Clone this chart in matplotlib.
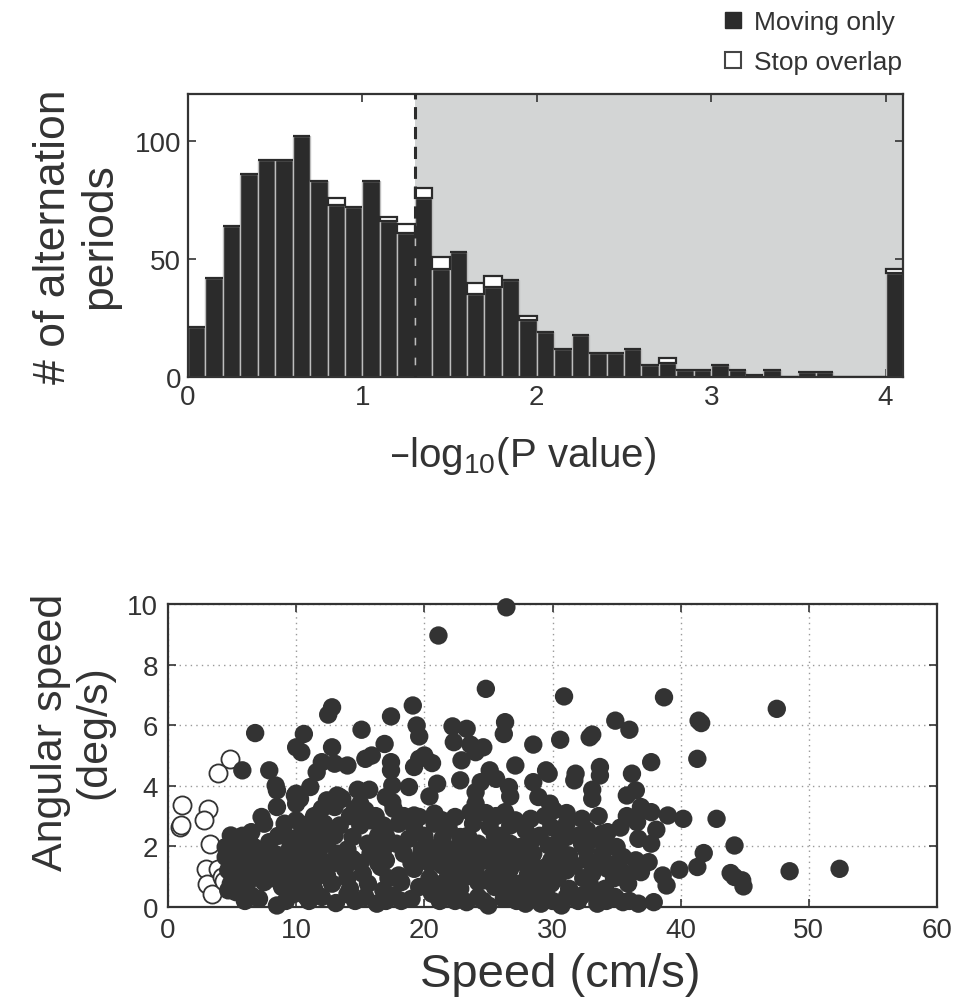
import numpy as np
import matplotlib
matplotlib.use("Agg")
import matplotlib.pyplot as plt
from matplotlib.lines import Line2D

plt.rcParams['font.family'] = ['Liberation Sans', 'DejaVu Sans']
plt.rcParams['mathtext.default'] = 'regular'

# ---------------- Histogram data ----------------
bin_width = 0.1
moving_only = [21, 42, 64, 86, 92, 92, 102, 83, 73, 72,
               83, 66, 61, 76, 46, 53, 35, 38, 41, 24,
               19, 12, 18, 10, 10, 12, 5, 6, 3, 3,
               5, 3, 1, 3, 0, 2, 2, 0, 0, 0,
               44]
stop_overlap = [0, 0, 0, 0, 0, 0, 0, 0, 3, 0,
                0, 2, 4, 4, 5, 0, 5, 5, 0, 2,
                0, 0, 0, 0, 0, 0, 0, 2, 0, 0,
                0, 0, 0, 0, 0, 0, 0, 0, 0, 0,
                2]
threshold = 1.3
hist_xticks = [0, 1, 2, 3, 4]
hist_yticks = [0, 50, 100]

# ---------------- Scatter data ----------------
speed_stop = [4.8, 3.9, 1.1, 3.1, 2.8, 0.9, 1.05, 3.3, 2.95, 3.9, 3.05, 3.45, 4.2, 4.4]
angular_stop = [4.9, 4.42, 3.37, 3.24, 2.87, 2.64, 2.70, 2.07, 1.27, 1.25, 0.77, 0.43, 1.0, 0.85]

moving_pts = [
    (26.4, 9.89), (21.1, 8.96), (24.8, 7.20), (30.9, 6.95), (38.7, 6.92), (47.5, 6.54),
    (19.1, 6.65), (12.8, 6.59), (12.5, 6.35), (17.4, 6.29), (34.9, 6.15), (41.4, 6.15),
    (41.6, 6.07), (26.3, 6.10), (19.4, 5.99), (22.2, 5.96), (23.3, 5.88), (15.1, 5.85),
    (36.0, 5.85), (6.8, 5.74), (10.6, 5.71), (19.6, 5.63), (26.2, 5.71), (33.1, 5.69),
    (32.9, 5.60), (30.6, 5.52), (22.3, 5.44), (16.9, 5.38), (28.5, 5.36), (23.6, 5.36),
    (10.0, 5.27), (12.8, 5.27), (24.6, 5.27), (10.4, 5.11), (24.0, 5.11), (15.9, 5.00),
    (15.4, 4.89), (41.3, 4.89), (20.0, 5.00), (19.6, 4.89), (22.9, 4.84), (37.7, 4.78),
    (12.0, 4.78), (17.4, 4.78), (20.6, 4.75), (13.0, 4.73), (14.0, 4.67), (27.1, 4.67),
    (33.7, 4.62), (19.2, 4.62), (5.8, 4.51), (7.9, 4.51), (11.6, 4.45), (17.4, 4.51),
    (25.1, 4.51), (29.5, 4.51), (29.7, 4.40), (31.8, 4.40), (36.2, 4.40), (33.7, 4.34),
    (25.6, 4.23), (22.8, 4.18), (28.5, 4.12), (24.4, 4.12), (21.0, 4.07), (8.4, 4.01),
    (17.5, 4.01), (26.6, 3.96), (31.7, 4.18), (11.1, 3.96), (18.8, 3.96), (8.5, 3.85),
    (14.8, 3.87), (15.7, 3.87), (33.1, 3.87), (36.5, 3.85), (24.0, 3.79), (35.8, 3.68),
    (9.9, 3.68), (20.4, 3.65), (28.9, 3.63), (33.1, 3.57), (13.4, 3.63), (26.7, 3.65),
    (29.8, 3.41), (17.5, 3.46), (12.4, 3.52), (10.0, 3.41), (24.0, 3.41), (8.5, 3.30),
    (36.9, 3.30), (30.1, 3.19), (37.7, 3.13), (15.4, 3.19), (39.0, 3.02), (40.2, 2.91),
    (42.8, 2.91), (7.3, 2.97), (22.4, 2.97), (28.3, 2.91), (32.3, 2.91), (36.6, 2.80),
    (19.6, 2.97), (35.3, 2.62), (38.1, 2.55), (44.2, 2.03), (41.8, 1.78), (39.9, 1.23),
    (41.3, 1.32), (48.5, 1.18), (52.4, 1.26), (43.9, 1.12), (44.8, 0.88), (44.9, 0.68),
    (44.2, 0.99), (38.9, 0.71), (38.6, 1.04), (36.7, 2.25), (37.7, 2.09), (35.0, 1.98),
    (33.9, 2.42), (36.5, 1.54), (37.5, 1.48), (36.9, 1.15),
    # bottom row
    (8.5, 0.05), (13.1, 0.13), (16.3, 0.11), (23.3, 0.16), (25.0, 0.05), (26.2, 0.27),
    (27.9, 0.11), (29.1, 0.11), (30.7, 0.05), (33.5, 0.11), (35.5, 0.16), (36.7, 0.11),
    (37.9, 0.16), (34.9, 0.33), (32.3, 0.38), (29.5, 0.38), (20.6, 0.44), (15.4, 0.33),
    (12.0, 0.33), (7.1, 0.27), (9.9, 0.44),
    # band 3.0-3.5
    (12.0, 3.24), (13.0, 3.30), (14.6, 3.24), (17.6, 3.24), (21.4, 2.86), (23.6, 3.13),
    (24.8, 3.10), (26.3, 3.13), (27.1, 2.86), (31.1, 3.10),
    # band 2.5-3.0
    (4.9, 2.36), (6.5, 2.47), (7.5, 2.75), (9.1, 2.75), (10.0, 2.86), (11.0, 2.75),
    (12.2, 2.75), (13.4, 2.69), (15.0, 2.69), (15.8, 2.86), (16.8, 2.69), (18.0, 2.75),
    (19.2, 2.64), (20.8, 2.75), (21.9, 2.58), (23.8, 2.75), (25.1, 2.64), (26.7, 2.69),
    (27.9, 2.53), (29.9, 2.64), (31.1, 2.75), (32.7, 2.53), (34.3, 2.47),
    # band 2.0-2.5
    (5.3, 2.09), (6.3, 2.25), (7.9, 2.14), (9.3, 2.31), (10.4, 2.42), (11.6, 2.25),
    (13.0, 2.36), (14.4, 2.31), (15.6, 2.09), (16.4, 2.36), (17.8, 2.09), (18.8, 2.25),
    (20.2, 2.03), (21.4, 2.25), (22.8, 2.31), (24.2, 2.09), (25.5, 2.36), (26.7, 2.09),
    (28.5, 2.25), (29.7, 2.03), (31.1, 2.31), (32.3, 2.09), (33.3, 2.25), (34.3, 1.98),
    # band 1.5-2.0
    (4.5, 1.65), (5.7, 1.76), (6.9, 1.59), (8.3, 1.76), (9.7, 1.65), (10.8, 1.81),
    (12.0, 1.54), (13.2, 1.76), (14.4, 1.59), (15.8, 1.76), (17.0, 1.54), (18.4, 1.76),
    (19.6, 1.59), (21.0, 1.76), (22.2, 1.54), (23.6, 1.70), (24.8, 1.54), (25.9, 1.81),
    (27.3, 1.59), (28.5, 1.76), (29.9, 1.54), (31.3, 1.70), (32.7, 1.54), (33.9, 1.76),
    (35.5, 1.65),
    # band 1.0-1.5
    (4.7, 1.21), (5.9, 1.32), (7.1, 1.10), (8.5, 1.26), (9.9, 1.10), (11.2, 1.32),
    (12.4, 1.04), (13.8, 1.26), (15.2, 1.10), (16.6, 1.32), (18.0, 1.04), (19.2, 1.26),
    (21.4, 1.37), (22.6, 1.10), (24.0, 1.26), (25.3, 1.04), (26.7, 1.26), (28.1, 1.10),
    (29.5, 1.32), (31.1, 1.21), (31.7, 1.37), (33.1, 1.10), (34.3, 1.26), (35.7, 1.10),
    # band 0.5-1.0
    (4.9, 0.77), (6.1, 0.60), (7.5, 0.82), (8.9, 0.66), (10.2, 0.82), (11.4, 0.60),
    (12.8, 0.77), (14.2, 0.60), (15.6, 0.77), (16.8, 0.55), (18.2, 0.82), (19.6, 0.66),
    (21.4, 0.77), (22.8, 0.60), (24.2, 0.82), (25.5, 0.66), (27.1, 0.77), (28.5, 0.60),
    (29.9, 0.77), (31.3, 0.60), (32.9, 0.77), (34.1, 0.60), (35.9, 0.77),
    # band 0.0-0.5
    (5.3, 0.49), (6.5, 0.38), (10.8, 0.33), (14.0, 0.42), (17.6, 0.38), (19.0, 0.27),
    (21.9, 0.44), (24.2, 0.33), (27.1, 0.38), (28.7, 0.27), (31.1, 0.33), (33.3, 0.49),
    # dense fill
    (5.1, 1.92), (5.7, 1.43), (5.3, 0.99), (6.3, 0.88), (6.7, 1.98), (7.3, 1.43),
    (7.9, 0.99), (9.1, 1.48), (9.3, 0.99), (9.5, 1.92), (4.5, 1.98), (4.7, 0.55),
    (10.1, 2.09), (10.8, 2.09), (11.2, 2.53), (12.4, 2.09), (12.8, 1.43), (11.6, 0.99),
    (10.4, 1.43), (23.2, 1.87), (24.4, 1.87), (25.5, 1.43), (27.9, 0.88), (28.9, 0.88),
    (28.5, 1.37), (26.7, 1.54), (25.1, 1.98), (27.5, 1.98), (23.2, 0.99), (24.8, 0.88),
    (26.3, 0.55), (27.7, 0.49), (29.5, 1.10), (10.0, 3.74), (10.3, 3.57), (13.2, 3.68),
    (13.6, 3.57), (15.0, 3.41), (17.0, 3.63), (19.2, 3.02), (20.8, 3.08),
    # extra core rows
    (6.0, 0.2), (9.2, 0.2), (11.0, 0.2), (14.6, 0.2), (17.0, 0.2), (18.2, 0.2),
    (21.2, 0.2), (22.4, 0.2), (24.6, 0.2), (27.2, 0.2), (30.0, 0.2), (32.0, 0.2),
    (34.2, 0.2), (36.0, 0.2),
    (6.2, 1.45), (8.0, 1.45), (11.0, 1.45), (13.6, 1.45), (15.0, 1.45), (16.4, 1.45),
    (19.0, 1.45), (20.4, 1.45), (21.8, 1.45), (23.0, 1.45), (27.8, 1.45), (30.4, 1.45),
    (33.4, 1.45), (35.0, 1.45),
    (5.8, 2.35), (8.6, 2.35), (12.0, 2.35), (17.0, 2.35), (20.0, 2.35), (23.4, 2.35),
    (26.0, 2.35), (29.0, 2.35), (30.6, 2.35), (32.0, 2.35),
    (6.6, 0.95), (8.2, 0.95), (10.8, 0.95), (14.0, 0.95), (17.2, 0.95), (20.4, 0.95),
    (21.8, 0.95), (26.0, 0.95), (30.4, 0.95), (32.4, 0.95), (34.8, 0.95),
    (7.6, 1.9), (11.8, 1.9), (14.0, 1.9), (16.8, 1.9), (19.8, 1.9), (22.0, 1.9),
    (26.2, 1.9), (28.0, 1.9), (30.6, 1.9), (32.6, 1.9),
    (11.4, 3.0), (14.2, 3.0), (16.2, 3.0), (18.4, 3.0), (25.6, 3.0), (29.4, 3.0),
    (33.6, 3.0), (35.8, 3.0),
]
speed_moving = [p[0] for p in moving_pts]
angular_moving = [p[1] for p in moving_pts]

dark = '#2b2b2b'

fig = plt.figure(figsize=(9.6, 10.04), dpi=100)

# ---------------- Histogram ----------------
ax1 = fig.add_axes([188/960, 1-378/1004, (903-188)/960, (378-95)/1004])
edges = np.arange(len(moving_only)) * bin_width
ax1.axvspan(threshold, len(moving_only) * bin_width, color='#d3d5d5', zorder=0, lw=0)
ax1.bar(edges, moving_only, width=bin_width, align='edge', color=dark,
        edgecolor='#bdbdbd', linewidth=1.0, zorder=2)
ax1.bar(edges, stop_overlap, width=bin_width, bottom=moving_only, align='edge',
        color='white', edgecolor=dark, linewidth=1.6, zorder=3)
ax1.axvline(threshold, color=dark, linestyle=(0, (4, 2.5)), linewidth=2.2, zorder=4)
ax1.set_xlim(0, len(moving_only) * bin_width)
ax1.set_ylim(0, 120)
ax1.set_xticks(hist_xticks)
ax1.set_yticks(hist_yticks)
ax1.tick_params(direction='in', top=True, right=True, labelsize=20, length=6,
                width=1.2, colors='#333333', pad=5)
for s in ax1.spines.values():
    s.set_linewidth(1.6)
    s.set_color('#333333')
ax1.set_xlabel('–log$_{10}$(P value)', fontsize=29, color='#333333')
ax1.xaxis.set_label_coords(0.468, -0.2)
ax1.set_ylabel('# of alternation\nperiods', fontsize=32, color='#333333',
               linespacing=1.15)
ax1.yaxis.set_label_coords(-0.095, 0.5)

handles = [Line2D([], [], marker='s', linestyle='none', markersize=12,
                  markerfacecolor=dark, markeredgecolor=dark),
           Line2D([], [], marker='s', linestyle='none', markersize=12,
                  markerfacecolor='white', markeredgecolor='#444444', markeredgewidth=1.5)]
fig.legend(handles, ['Moving only', 'Stop overlap'], loc='upper right',
           bbox_to_anchor=(906/960, 1 - 7/1004), frameon=False, fontsize=19,
           handletextpad=0.3, labelspacing=0.6, handlelength=1.0,
           borderpad=0.05, borderaxespad=0.1, labelcolor='#333333')

# ---------------- Scatter ----------------
ax2 = fig.add_axes([168/960, 1-908/1004, (937-168)/960, (908-605)/1004])
ax2.scatter(speed_stop, angular_stop, s=170, facecolors='white', edgecolors='#333333',
            linewidths=1.3, zorder=2, clip_on=False)
ax2.scatter(speed_moving, angular_moving, s=175, color='#333333', edgecolors='none',
            zorder=3, clip_on=False)
ax2.set_xlim(0, 60)
ax2.set_ylim(0, 10)
ax2.set_xticks(np.arange(0, 61, 10))
ax2.set_yticks(np.arange(0, 11, 2))
ax2.grid(True, linestyle=(0, (1, 3)), color='#999999', linewidth=1.0)
ax2.set_axisbelow(True)
ax2.tick_params(direction='in', top=True, right=True, labelsize=20, length=6,
                width=1.2, colors='#333333', pad=7)
for s in ax2.spines.values():
    s.set_linewidth(1.6)
    s.set_color('#333333')
ax2.set_xlabel('Speed (cm/s)', fontsize=34, color='#333333')
ax2.xaxis.set_label_coords(0.51, -0.15)
ax2.set_ylabel('Angular speed\n(deg/s)', fontsize=31, color='#333333', linespacing=1.1)
ax2.yaxis.set_label_coords(-0.07, 0.58)

fig.savefig('out.png', dpi=100)
